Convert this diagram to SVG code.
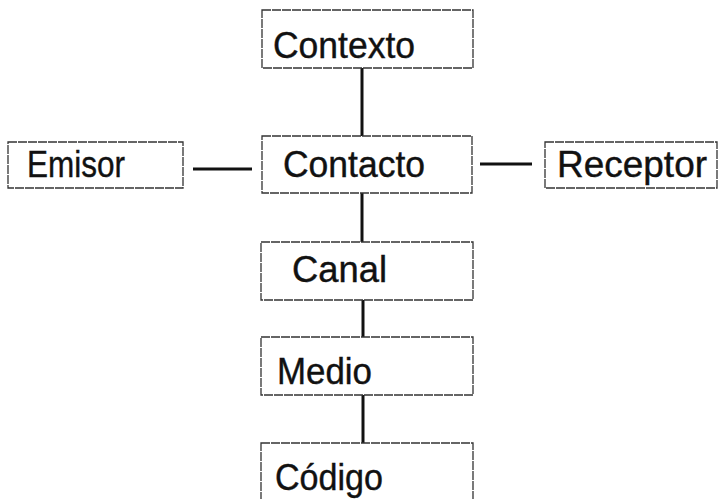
<svg xmlns="http://www.w3.org/2000/svg" width="718" height="499" viewBox="0 0 718 499">
<style>
.box{fill:#fff;stroke:#333;stroke-width:1.3;stroke-dasharray:9 1}
.lbl{font-family:"Liberation Sans",Arial,sans-serif;font-size:36px;fill:#111;stroke:#111;stroke-width:0.4}
.con{stroke:#111;stroke-width:3;fill:none}
</style>
<rect width="718" height="499" fill="#fff"/>
<g id="connectors">
<line class="con" x1="362" y1="68" x2="362" y2="136"/>
<line class="con" x1="193" y1="169" x2="252" y2="169"/>
<line class="con" x1="480" y1="164" x2="532" y2="164"/>
<line class="con" x1="362" y1="193" x2="362" y2="242"/>
<line class="con" x1="363" y1="300" x2="363" y2="337"/>
<line class="con" x1="363" y1="395" x2="363" y2="443"/>
</g>
<g id="contexto">
<rect class="box" x="262" y="10" width="211" height="58"/>
<text class="lbl" x="273" y="58" textLength="142" lengthAdjust="spacingAndGlyphs">Contexto</text>
</g>
<g id="emisor">
<rect class="box" x="8" y="142" width="175" height="46"/>
<text class="lbl" x="27" y="177" textLength="98" lengthAdjust="spacingAndGlyphs">Emisor</text>
</g>
<g id="contacto">
<rect class="box" x="262" y="136" width="210" height="57"/>
<text class="lbl" x="283" y="177" textLength="142" lengthAdjust="spacingAndGlyphs">Contacto</text>
</g>
<g id="receptor">
<rect class="box" x="545" y="142" width="172" height="46"/>
<text class="lbl" x="557" y="177" textLength="150" lengthAdjust="spacingAndGlyphs">Receptor</text>
</g>
<g id="canal">
<rect class="box" x="261" y="242" width="212" height="58"/>
<text class="lbl" x="292" y="282" textLength="95" lengthAdjust="spacingAndGlyphs">Canal</text>
</g>
<g id="medio">
<rect class="box" x="261" y="337" width="212" height="58"/>
<text class="lbl" x="277" y="384" textLength="95" lengthAdjust="spacingAndGlyphs">Medio</text>
</g>
<g id="codigo">
<rect class="box" x="261" y="443" width="212" height="62"/>
<text class="lbl" x="275" y="490" textLength="108" lengthAdjust="spacingAndGlyphs">Código</text>
</g>
</svg>
